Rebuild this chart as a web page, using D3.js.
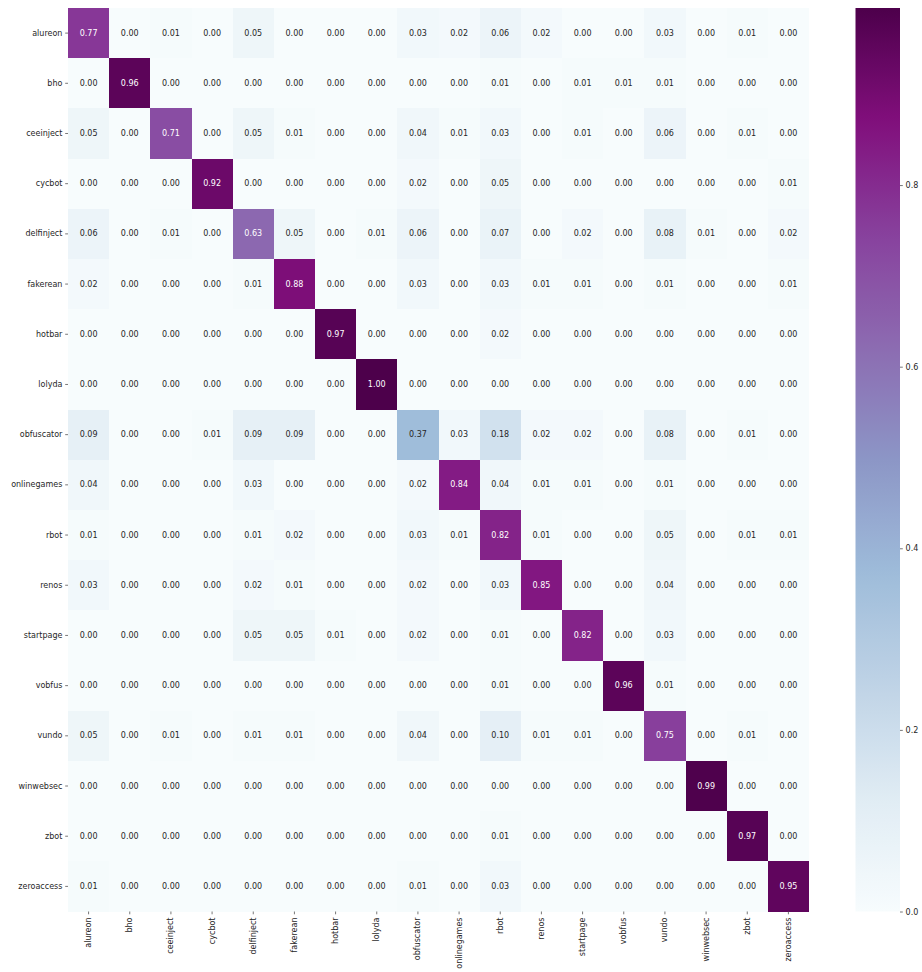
<!DOCTYPE html>
<html>
<head>
<meta charset="utf-8">
<script src="https://cdn.jsdelivr.net/npm/d3@7"></script>
<style>
  html, body { margin: 0; padding: 0; background: #fff; }
  svg { display: block; font-family: "DejaVu Sans", sans-serif; }
</style>
</head>
<body>
<svg id="chart" width="922" height="972"></svg>
<script>
// Malware families (rows = true class, columns = predicted class)
const families = ["alureon", "bho", "ceeinject", "cycbot", "delfinject", "fakerean",
  "hotbar", "lolyda", "obfuscator", "onlinegames", "rbot", "renos",
  "startpage", "vobfus", "vundo", "winwebsec", "zbot", "zeroaccess"];

// Normalised confusion matrix, one array per true class
const rowAlureon     = [0.77, 0.00, 0.01, 0.00, 0.05, 0.00, 0.00, 0.00, 0.03, 0.02, 0.06, 0.02, 0.00, 0.00, 0.03, 0.00, 0.01, 0.00];
const rowBho         = [0.00, 0.96, 0.00, 0.00, 0.00, 0.00, 0.00, 0.00, 0.00, 0.00, 0.01, 0.00, 0.01, 0.01, 0.01, 0.00, 0.00, 0.00];
const rowCeeinject   = [0.05, 0.00, 0.71, 0.00, 0.05, 0.01, 0.00, 0.00, 0.04, 0.01, 0.03, 0.00, 0.01, 0.00, 0.06, 0.00, 0.01, 0.00];
const rowCycbot      = [0.00, 0.00, 0.00, 0.92, 0.00, 0.00, 0.00, 0.00, 0.02, 0.00, 0.05, 0.00, 0.00, 0.00, 0.00, 0.00, 0.00, 0.01];
const rowDelfinject  = [0.06, 0.00, 0.01, 0.00, 0.63, 0.05, 0.00, 0.01, 0.06, 0.00, 0.07, 0.00, 0.02, 0.00, 0.08, 0.01, 0.00, 0.02];
const rowFakerean    = [0.02, 0.00, 0.00, 0.00, 0.01, 0.88, 0.00, 0.00, 0.03, 0.00, 0.03, 0.01, 0.01, 0.00, 0.01, 0.00, 0.00, 0.01];
const rowHotbar      = [0.00, 0.00, 0.00, 0.00, 0.00, 0.00, 0.97, 0.00, 0.00, 0.00, 0.02, 0.00, 0.00, 0.00, 0.00, 0.00, 0.00, 0.00];
const rowLolyda      = [0.00, 0.00, 0.00, 0.00, 0.00, 0.00, 0.00, 1.00, 0.00, 0.00, 0.00, 0.00, 0.00, 0.00, 0.00, 0.00, 0.00, 0.00];
const rowObfuscator  = [0.09, 0.00, 0.00, 0.01, 0.09, 0.09, 0.00, 0.00, 0.37, 0.03, 0.18, 0.02, 0.02, 0.00, 0.08, 0.00, 0.01, 0.00];
const rowOnlinegames = [0.04, 0.00, 0.00, 0.00, 0.03, 0.00, 0.00, 0.00, 0.02, 0.84, 0.04, 0.01, 0.01, 0.00, 0.01, 0.00, 0.00, 0.00];
const rowRbot        = [0.01, 0.00, 0.00, 0.00, 0.01, 0.02, 0.00, 0.00, 0.03, 0.01, 0.82, 0.01, 0.00, 0.00, 0.05, 0.00, 0.01, 0.01];
const rowRenos       = [0.03, 0.00, 0.00, 0.00, 0.02, 0.01, 0.00, 0.00, 0.02, 0.00, 0.03, 0.85, 0.00, 0.00, 0.04, 0.00, 0.00, 0.00];
const rowStartpage   = [0.00, 0.00, 0.00, 0.00, 0.05, 0.05, 0.01, 0.00, 0.02, 0.00, 0.01, 0.00, 0.82, 0.00, 0.03, 0.00, 0.00, 0.00];
const rowVobfus      = [0.00, 0.00, 0.00, 0.00, 0.00, 0.00, 0.00, 0.00, 0.00, 0.00, 0.01, 0.00, 0.00, 0.96, 0.01, 0.00, 0.00, 0.00];
const rowVundo       = [0.05, 0.00, 0.01, 0.00, 0.01, 0.01, 0.00, 0.00, 0.04, 0.00, 0.10, 0.01, 0.01, 0.00, 0.75, 0.00, 0.01, 0.00];
const rowWinwebsec   = [0.00, 0.00, 0.00, 0.00, 0.00, 0.00, 0.00, 0.00, 0.00, 0.00, 0.00, 0.00, 0.00, 0.00, 0.00, 0.99, 0.00, 0.00];
const rowZbot        = [0.00, 0.00, 0.00, 0.00, 0.00, 0.00, 0.00, 0.00, 0.00, 0.00, 0.01, 0.00, 0.00, 0.00, 0.00, 0.00, 0.97, 0.00];
const rowZeroaccess  = [0.01, 0.00, 0.00, 0.00, 0.00, 0.00, 0.00, 0.00, 0.01, 0.00, 0.03, 0.00, 0.00, 0.00, 0.00, 0.00, 0.00, 0.95];

const matrix = [rowAlureon, rowBho, rowCeeinject, rowCycbot, rowDelfinject, rowFakerean,
  rowHotbar, rowLolyda, rowObfuscator, rowOnlinegames, rowRbot, rowRenos,
  rowStartpage, rowVobfus, rowVundo, rowWinwebsec, rowZbot, rowZeroaccess];

// Colour bar ticks and range
const colorTicks = [0.0, 0.2, 0.4, 0.6, 0.8];
const colorMin = 0.0, colorMax = 0.995;

// BuPu (ColorBrewer 9-class), linearly interpolated
const bupu = ["#f7fcfd", "#e0ecf4", "#bfd3e6", "#9ebcda", "#8c96c6", "#8c6bb1", "#88419d", "#810f7c", "#4d004b"];

const cells = [];
matrix.forEach((row, i) => row.forEach((v, j) => cells.push({ row: families[i], col: families[j], value: v })));

const svg = d3.select("#chart");
const plotLeft = 68, plotTop = 8, plotRight = 809, plotBottom = 911.5;

const x = d3.scaleBand().domain(families).range([plotLeft, plotRight]).padding(0);
const y = d3.scaleBand().domain(families).range([plotTop, plotBottom]).padding(0);

const norm = d3.scaleLinear().domain([colorMin, colorMax]).range([0, 1]).clamp(true);
const ramp = d3.scaleLinear()
  .domain(bupu.map((_, k) => k / (bupu.length - 1)))
  .range(bupu)
  .interpolate(d3.interpolateRgb)
  .clamp(true);
const color = v => ramp(norm(v));

// Cells
svg.append("g").selectAll("rect")
  .data(cells).join("rect")
  .attr("x", d => x(d.col))
  .attr("y", d => y(d.row))
  .attr("width", x.bandwidth() + 0.3)
  .attr("height", y.bandwidth() + 0.3)
  .attr("fill", d => color(d.value))
  .attr("shape-rendering", "crispEdges");

// Annotations: light text on dark cells
function luminance(c) {
  const rgb = d3.rgb(c);
  const lin = [rgb.r, rgb.g, rgb.b].map(u => {
    u /= 255;
    return u <= 0.03928 ? u / 12.92 : Math.pow((u + 0.055) / 1.055, 2.4);
  });
  return 0.2126 * lin[0] + 0.7152 * lin[1] + 0.0722 * lin[2];
}
svg.append("g").selectAll("text")
  .data(cells).join("text")
  .attr("x", d => x(d.col) + x.bandwidth() / 2)
  .attr("y", d => y(d.row) + y.bandwidth() / 2)
  .attr("text-anchor", "middle")
  .attr("dominant-baseline", "central")
  .attr("font-size", "8px")
  .attr("fill", d => luminance(color(d.value)) > 0.408 ? "#262626" : "#ffffff")
  .text(d => d.value.toFixed(2));

// Axes
const yAxis = svg.append("g")
  .attr("transform", `translate(${plotLeft},0)`)
  .call(d3.axisLeft(y).tickSize(2.8).tickPadding(2.8));
const xAxis = svg.append("g")
  .attr("transform", `translate(0,${plotBottom})`)
  .call(d3.axisBottom(x).tickSize(2.8).tickPadding(2.8));

[yAxis, xAxis].forEach(g => {
  g.select(".domain").remove();
  g.selectAll(".tick line").attr("stroke", "#555").attr("stroke-width", 0.8);
  g.selectAll(".tick text").attr("fill", "#262626").attr("font-size", "8px")
    .attr("font-family", "DejaVu Sans, sans-serif");
});
xAxis.selectAll(".tick text")
  .attr("transform", "rotate(-90)")
  .attr("text-anchor", "end")
  .attr("x", -6)
  .attr("y", 0)
  .attr("dy", "0.32em");

// Colour bar
const cbLeft = 855.5, cbRight = 900;
const cbScale = d3.scaleLinear().domain([colorMin, colorMax]).range([plotBottom, plotTop]);
const defs = svg.append("defs");
const grad = defs.append("linearGradient")
  .attr("id", "cbGrad").attr("x1", 0).attr("y1", 1).attr("x2", 0).attr("y2", 0);
d3.range(0, 1.0001, 0.02).forEach(t => {
  grad.append("stop").attr("offset", t).attr("stop-color", ramp(t));
});
svg.append("rect")
  .attr("x", cbLeft).attr("y", plotTop)
  .attr("width", cbRight - cbLeft).attr("height", plotBottom - plotTop)
  .attr("fill", "url(#cbGrad)");

const cbAxis = svg.append("g")
  .attr("transform", `translate(${cbRight},0)`)
  .call(d3.axisRight(cbScale).tickValues(colorTicks).tickFormat(d3.format(".1f")).tickSize(2.8).tickPadding(2.8));
cbAxis.select(".domain").remove();
cbAxis.selectAll(".tick line").attr("stroke", "#555").attr("stroke-width", 0.8);
cbAxis.selectAll(".tick text").attr("fill", "#262626").attr("font-size", "8px")
  .attr("font-family", "DejaVu Sans, sans-serif");
</script>
</body>
</html>
